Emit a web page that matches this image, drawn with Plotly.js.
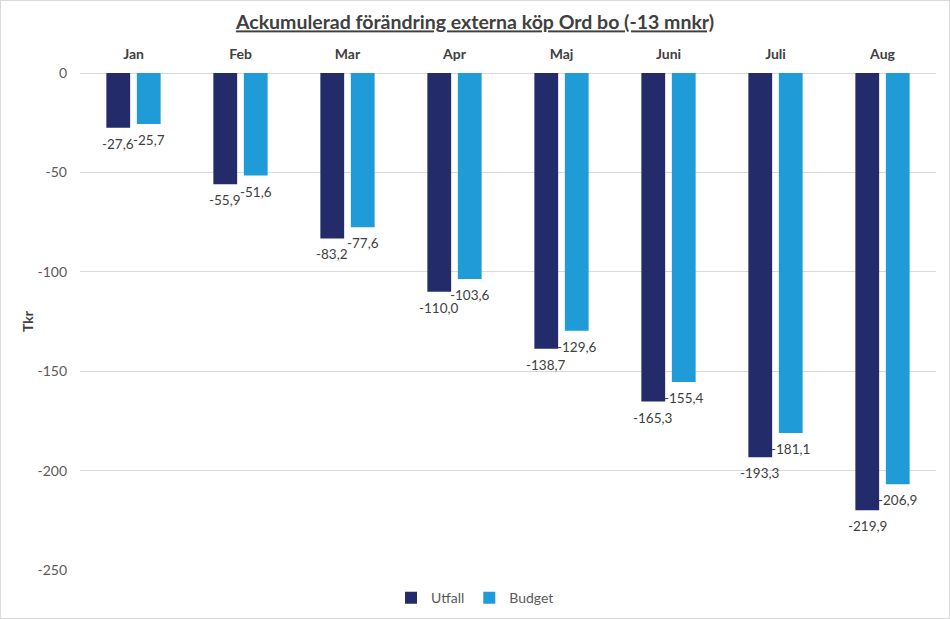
<!DOCTYPE html>
<html>
<head>
<meta charset="utf-8">
<script src="https://cdn.plot.ly/plotly-3.0.1.min.js"></script>
<style>
html,body{margin:0;padding:0;background:#fff;}
#wrap{width:948px;height:617px;border:1px solid #d9d9d9;}
#chart{width:948px;height:617px;}
</style>
</head>
<body>
<div id="wrap"><div id="chart"></div></div>
<script>
const months = ["Jan","Feb","Mar","Apr","Maj","Juni","Juli","Aug"];
const utfall = [-27.6,-55.9,-83.2,-110.0,-138.7,-165.3,-193.3,-219.9];
const budget = [-25.7,-51.6,-77.6,-103.6,-129.6,-155.4,-181.1,-206.9];
const yTicks = [0,-50,-100,-150,-200,-250];

const fmt = v => v.toFixed(1).replace('.', ',');
const FONT = "Lato, 'Open Sans', sans-serif";

const labelFont = {family: FONT, size: 13.5, color: '#404040'};

const traces = [
  {type:'bar', name:'Utfall', x:months, y:utfall,
   marker:{color:'#232B6B'}, hoverinfo:'x+y'},
  {type:'bar', name:'Budget', x:months, y:budget,
   marker:{color:'#1F9BD8'}, hoverinfo:'x+y'}
];

// data labels under each bar end, offset to each bar within its group
const annotations = [];
[[utfall, -15.3], [budget, 15.3]].forEach(([vals, dx]) => {
  vals.forEach((v, i) => {
    annotations.push({x: months[i], y: v, xref:'x', yref:'y', text: fmt(v),
      showarrow:false, xshift: dx, yshift: -16, xanchor:'center', yanchor:'middle',
      font: labelFont});
  });
});

const layout = {
  width:948, height:617,
  margin:{l:79, r:13, t:72, b:48},
  paper_bgcolor:'#fff', plot_bgcolor:'#fff',
  barmode:'group', bargap:0.43, bargroupgap:0.22,
  font:{family:FONT, color:'#595959'},
  title:{text:'Ackumulerad förändring externa köp Ord bo (-13 mnkr)',
    font:{family:FONT, size:19.5, color:'#404040', weight:'bold', lineposition:'under'},
    x:0.5, xanchor:'center', xref:'container', y:0.965, yanchor:'middle', yref:'container'},
  xaxis:{side:'top', type:'category', showgrid:false, showline:false, zeroline:false,
    ticks:'', ticklabelstandoff:10,
    tickfont:{family:FONT, size:14, color:'#404040', weight:'bold'}},
  yaxis:{range:[-250,0], tickvals:yTicks, ticktext:yTicks.map(String),
    showgrid:true, gridcolor:'#d9d9d9', gridwidth:1, zeroline:true, zerolinecolor:'#d9d9d9',
    showline:false, ticks:'', ticklabelstandoff:12,
    tickfont:{family:FONT, size:14, color:'#595959'},
    title:{text:'Tkr', standoff:0, font:{family:FONT, size:14, color:'#404040', weight:'bold'}}},
  legend:{orientation:'h', x:0.5, xanchor:'center', xref:'container', y:0.032, yref:'container', yanchor:'middle',
    font:{family:FONT, size:14, color:'#595959'}, itemwidth:30, traceorder:'normal'},
  annotations: annotations,
  showlegend:true
};

Plotly.newPlot('chart', traces, layout, {displayModeBar:false, staticPlot:true});
</script>
</body>
</html>
